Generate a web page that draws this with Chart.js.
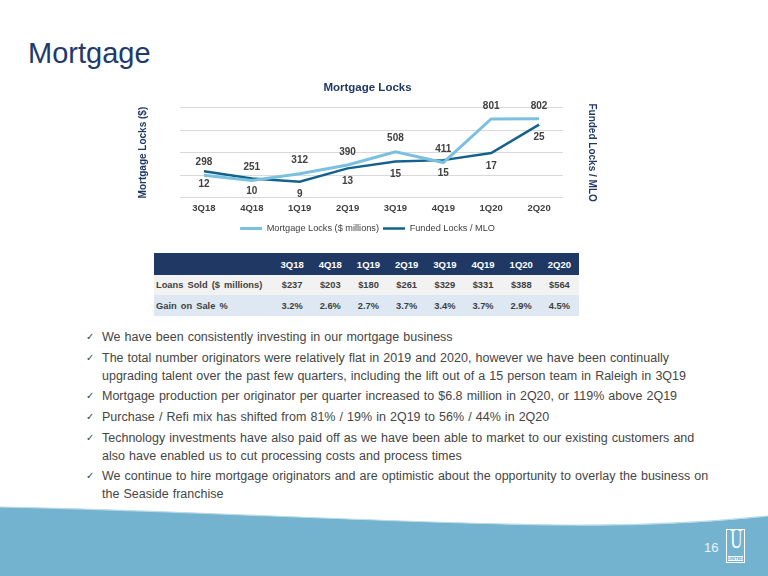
<!DOCTYPE html>
<html>
<head>
<meta charset="utf-8">
<script src="https://cdn.jsdelivr.net/npm/chart.js@4.4.0/dist/chart.umd.min.js"></script>
<style>
    html, body { margin: 0; padding: 0; }
    body { width: 768px; height: 576px; position: relative; overflow: hidden; background: #fff; font-family: Arial, "Liberation Sans", sans-serif; }
    .slide-title { position: absolute; left: 28px; top: 39px; font-size: 29px; line-height: 29px; color: #213a6b; }
    .chart-box { position: absolute; left: 130px; top: 75px; width: 480px; height: 168px; }
    table.stats { position: absolute; left: 154px; top: 253px; border-collapse: collapse; font-size: 9.3px; font-weight: bold; color: #404040; }
    table.stats td, table.stats th { padding: 0; text-align: center; width: 38.2px; }
    table.stats th { background: #203864; color: #fff; height: 22px; font-size: 9.5px; }
    table.stats td.lbl, table.stats th.lbl { width: 117px; text-align: left; padding-left: 2px; word-spacing: 1.5px; }
    table.stats tr.r1 td { background: #f2f2f2; height: 20px; }
    table.stats tr.r2 td { background: #dde8f3; height: 21px; }
    ul.bullets { position: absolute; left: 86px; top: 328px; margin: 0; padding: 0; list-style: none; font-size: 12.5px; line-height: 18px; color: #454545; word-spacing: 0.6px; white-space: nowrap; }
    ul.bullets li { position: relative; padding-left: 16px; margin-bottom: 2.7px; }
    ul.bullets li:before { content: "\2713"; position: absolute; left: 0; top: 0; font-family: "DejaVu Sans", sans-serif; font-size: 10px; color: #404040; }
    .wave { position: absolute; left: 0; top: 0; }
    .page-num { position: absolute; left: 704px; top: 540px; font-size: 13px; color: #eaf3f8; }
    .logo { position: absolute; left: 726px; top: 529px; width: 17px; height: 32px; border: 1px solid #fff; }
    .logo .u { position: absolute; left: 0; top: -4px; width: 17px; text-align: center; font-family: "Liberation Serif", serif; font-size: 27px; line-height: 27px; color: #fff; transform: scaleX(0.62); }
    .logo .band { position: absolute; left: 1px; bottom: 1px; width: 15px; height: 5px; background: #fff; color: #5f9fbd; font-size: 4px; font-weight: bold; line-height: 5px; text-align: center; }
</style>
</head>
<body>

<svg class="wave" width="768" height="576">
    <path d="M0,507 C180,510 380,523 560,525 C660,526 720,521 768,516 L768,576 L0,576 Z" fill="#73b3cf"/>
    <path d="M0,507 C180,510 380,523 560,525 C660,526 720,521 768,516" fill="none" stroke="#bcdbe9" stroke-width="1.2"/>
</svg>

<div class="slide-title">Mortgage</div>

<div class="chart-box"><canvas id="locksChart" width="480" height="168"></canvas></div>

<table class="stats" id="statsTable"></table>

<ul class="bullets">
    <li>We have been consistently investing in our mortgage business</li>
    <li>The total number originators were relatively flat in 2019 and 2020, however we have been continually<br>upgrading talent over the past few quarters, including the lift out of a 15 person team in Raleigh in 3Q19</li>
    <li>Mortgage production per originator per quarter increased to $6.8 million in 2Q20, or 119% above 2Q19</li>
    <li>Purchase / Refi mix has shifted from 81% / 19% in 2Q19 to 56% / 44% in 2Q20</li>
    <li>Technology investments have also paid off as we have been able to market to our existing customers and<br>also have enabled us to cut processing costs and process times</li>
    <li>We continue to hire mortgage originators and are optimistic about the opportunity to overlay the business on<br>the Seaside franchise</li>
</ul>

<div class="page-num">16</div>
<div class="logo"><div class="u">U</div><div class="band">UNITED</div></div>

<script>
    var quarters = ['3Q18', '4Q18', '1Q19', '2Q19', '3Q19', '4Q19', '1Q20', '2Q20'];
    var mortgageLocks = [298, 251, 312, 390, 508, 411, 801, 802];
    var fundedPerMlo = [12.3, 10.3, 9.4, 13.1, 15.0, 15.4, 17.4, 25.3];
    var loansSold = ['$237', '$203', '$180', '$261', '$329', '$331', '$388', '$564'];
    var gainOnSale = ['3.2%', '2.6%', '2.7%', '3.7%', '3.4%', '3.7%', '2.9%', '4.5%'];

    var navy = '#1f3864';
    var lightBlue = '#7bc1df';
    var darkBlue = '#14618d';

    // table under the chart
    var table = document.getElementById('statsTable');
    var html = '<tr><th class="lbl"></th>' + quarters.map(function (q) { return '<th>' + q + '</th>'; }).join('') + '</tr>';
    html += '<tr class="r1"><td class="lbl">Loans Sold ($ millions)</td>' + loansSold.map(function (v) { return '<td>' + v + '</td>'; }).join('') + '</tr>';
    html += '<tr class="r2"><td class="lbl">Gain on Sale %</td>' + gainOnSale.map(function (v) { return '<td>' + v + '</td>'; }).join('') + '</tr>';
    table.innerHTML = html;

    // value labels: first series above the line, second below
    var pointLabels = {
        id: 'pointLabels',
        afterDatasetsDraw: function (chart) {
            var ctx = chart.ctx;
            ctx.save();
            ctx.font = 'bold 10px Arial';
            ctx.fillStyle = '#404040';
            ctx.textAlign = 'center';
            ctx.textBaseline = 'middle';
            chart.data.datasets.forEach(function (ds, i) {
                var meta = chart.getDatasetMeta(i);
                meta.data.forEach(function (pt, j) {
                    var shift = i === 0 ? -13 : 13;
                    ctx.fillText(Math.round(ds.data[j]), pt.x, pt.y + shift);
                });
            });
            ctx.restore();
        }
    };

    var ctx = document.getElementById('locksChart').getContext('2d');
    var chart = new Chart(ctx, {
        type: 'line',
        data: {
            labels: quarters,
            datasets: [{
                label: 'Mortgage Locks ($ millions)',
                data: mortgageLocks,
                yAxisID: 'y',
                borderColor: lightBlue,
                backgroundColor: lightBlue,
                borderWidth: 3,
                pointRadius: 0,
                tension: 0
            }, {
                label: 'Funded Locks / MLO',
                data: fundedPerMlo,
                yAxisID: 'y1',
                borderColor: darkBlue,
                backgroundColor: darkBlue,
                borderWidth: 2.5,
                pointRadius: 0,
                tension: 0
            }]
        },
        options: {
            responsive: false,
            animation: false,
            devicePixelRatio: 1,
            layout: { padding: { left: 3, right: 8, top: 0, bottom: 0 } },
            plugins: {
                title: {
                    display: true,
                    text: 'Mortgage Locks',
                    color: navy,
                    font: { family: 'Arial', size: 11.5, weight: 'bold' },
                    padding: { top: 6, bottom: 13 }
                },
                legend: {
                    position: 'bottom',
                    labels: {
                        usePointStyle: true,
                        pointStyle: 'line',
                        pointStyleWidth: 22,
                        color: '#404040',
                        font: { family: 'Arial', size: 9.2 },
                        padding: 4
                    }
                },
                tooltip: { enabled: false }
            },
            scales: {
                x: {
                    offset: true,
                    grid: { display: false, drawTicks: false },
                    border: { display: false },
                    ticks: {
                        color: '#404040',
                        padding: 5.5,
                        font: { family: 'Arial', size: 9.5, weight: 'bold' }
                    }
                },
                y: {
                    position: 'left',
                    min: 100,
                    max: 900,
                    ticks: { stepSize: 200, display: false },
                    grid: { color: '#d9d9d9', drawTicks: false },
                    border: { display: false },
                    title: {
                        display: true,
                        text: 'Mortgage Locks ($)',
                        color: navy,
                        font: { family: 'Arial', size: 10, weight: 'bold' }
                    },
                    afterFit: function (scale) { scale.width = 47; }
                },
                y1: {
                    position: 'right',
                    min: 5,
                    max: 30,
                    ticks: { display: false },
                    grid: { display: false, drawTicks: false },
                    border: { display: false },
                    title: {
                        display: true,
                        text: 'Funded Locks / MLO',
                        color: navy,
                        font: { family: 'Arial', size: 10, weight: 'bold' }
                    },
                    afterFit: function (scale) { scale.width = 39; }
                }
            }
        },
        plugins: [pointLabels]
    });
</script>
</body>
</html>
